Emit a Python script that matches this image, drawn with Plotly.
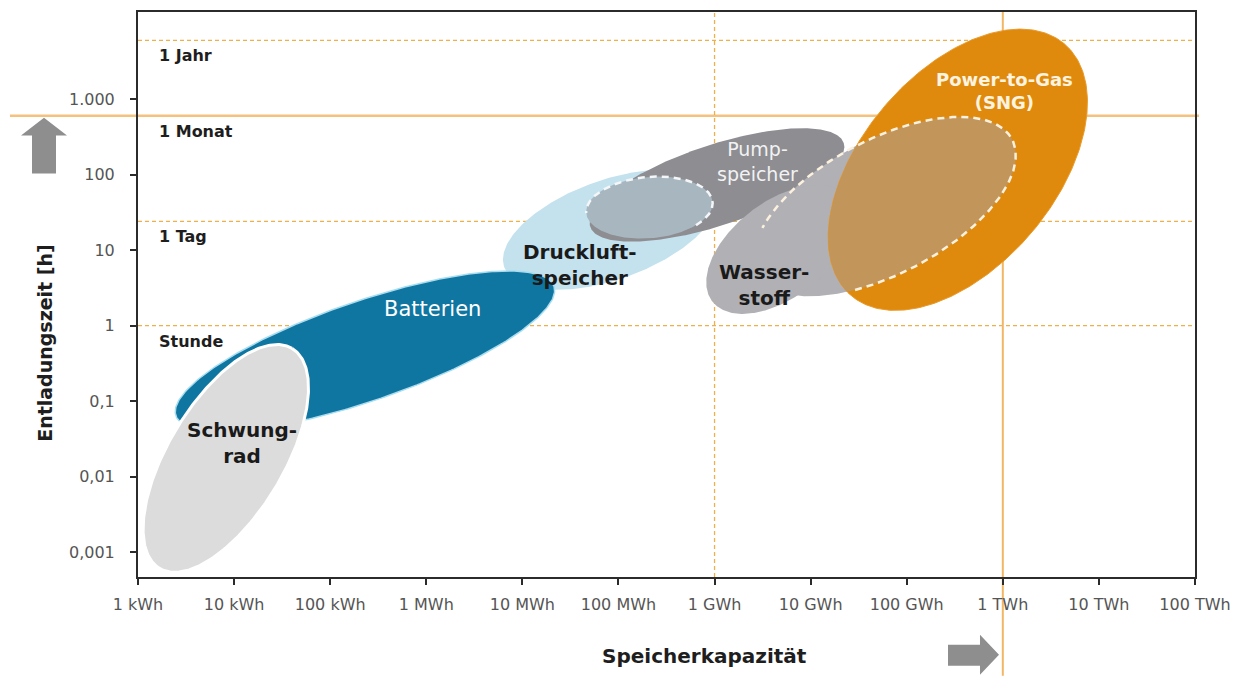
import numpy as np
import plotly.graph_objects as go

# Achsen: Speicherkapazität in kWh, Entladungszeit in h (beide logarithmisch)
x_ticks_kwh = [1e0, 1e1, 1e2, 1e3, 1e4, 1e5, 1e6, 1e7, 1e8, 1e9, 1e10, 1e11]
x_tick_text = ["1 kWh", "10 kWh", "100 kWh", "1 MWh", "10 MWh", "100 MWh",
               "1 GWh", "10 GWh", "100 GWh", "1 TWh", "10 TWh", "100 TWh"]
y_ticks_h = [1e-3, 1e-2, 1e-1, 1e0, 1e1, 1e2, 1e3]
y_tick_text = ["0,001", "0,01", "0,1", "1", "10", "100", "1.000"]

# Zeitmarken (wie im Bild eingezeichnet)
mark_names = ["1 Jahr", "1 Monat", "1 Tag", "Stunde"]
mark_hours = [6000, 600, 24, 1]
mark_solid = [False, True, False, False]

# Kapazitätsmarken
cap_marks_kwh = [1e6, 1e9]
cap_solid = [False, True]

# Technologiebereiche als Ellipsen (Mitte, Halbachsen in Dekaden, Neigung in Grad)
techs = ["Schwungrad", "Batterien", "Druckluftspeicher", "Pumpspeicher",
         "Druckluft/Pump", "Wasserstoff", "Wasserstoff (Rückverstromung)", "Power-to-Gas"]
center_kwh = [8.2, 230, 8.2e4, 1.06e6, 2.1e5, 4.8e6, 5.9e7, 3.4e8]
center_h = [0.0174, 0.46, 18.6, 73, 36.6, 10.2, 37.7, 116]
half_major = [1.34, 2.08, 1.17, 1.39, 0.66, 0.89, 1.50, 1.72]
half_minor = [0.60, 0.52, 0.52, 0.42, 0.32, 0.50, 0.70, 1.01]
tilt_deg = [59, 19, 19.6, 18.4, 5, 37.7, 28, 50]

# Beschriftungen der Bereiche
label_text = ["Schwung-<br>rad", "Batterien", "Druckluft-<br>speicher", "Pump-<br>speicher",
              "Wasser-<br>stoff", "Power-to-Gas<br>(SNG)"]
label_kwh = [12, 1170, 4e4, 2.8e6, 3.3e6, 1.05e9]
label_h = [0.028, 1.66, 6.3, 150, 3.4, 1300]

W, H = 1240, 668          # Seite hat 8 px Rand
OFF = 8
ML, MR, MT, MB = 130, 53, 2, 99
XR = (0.0, 11.0)
YR = (-3.33, 4.154)
PW, PH = W - ML - MR, H - MT - MB
ASPECT = (PW / (XR[1] - XR[0])) / (PH / (YR[1] - YR[0]))
FONT = "DejaVu Sans, Verdana, sans-serif"


def px(v):
    return (np.log10(v) - XR[0]) / (XR[1] - XR[0])


def py(v):
    return (np.log10(v) - YR[0]) / (YR[1] - YR[0])


def pix(x, y):
    # Bildschirmposition -> paper-Koordinaten (für Elemente außerhalb der Achsen)
    return (x - OFF - ML) / PW, (H - MB - (y - OFF)) / PH


def ellipse(i, t):
    cx, cy = np.log10(center_kwh[i]), np.log10(center_h[i])
    a, b, th = half_major[i], half_minor[i], np.radians(tilt_deg[i])
    u, v = a * np.cos(t), b * np.sin(t)
    dx = u * np.cos(th) - v * np.sin(th)
    dy = (u * np.sin(th) + v * np.cos(th)) * ASPECT
    return cx + dx, cy + dy


def inside(i, lx, ly):
    cx, cy = np.log10(center_kwh[i]), np.log10(center_h[i])
    a, b, th = half_major[i], half_minor[i], np.radians(tilt_deg[i])
    dx, dy = lx - cx, (ly - cy) / ASPECT
    u = dx * np.cos(th) + dy * np.sin(th)
    v = -dx * np.sin(th) + dy * np.cos(th)
    return (u / a) ** 2 + (v / b) ** 2 <= 1.0


fig = go.Figure()
T = np.linspace(0, 2 * np.pi, 361)


def add_area(i, fill, line_color=None, line_width=0):
    lx, ly = ellipse(i, T)
    fig.add_trace(go.Scatter(x=10 ** lx, y=10 ** ly, mode="lines", fill="toself",
                             fillcolor=fill, hoverinfo="skip", showlegend=False,
                             line=dict(color=line_color or fill, width=line_width)))


def add_arc(i, t0, t1, color):
    lx, ly = ellipse(i, np.linspace(np.radians(t0), np.radians(t1), 200))
    fig.add_trace(go.Scatter(x=10 ** lx, y=10 ** ly, mode="lines", hoverinfo="skip",
                             showlegend=False,
                             line=dict(color=color, width=2.5, dash="7px,5px")))


add_area(2, "#C4E1EE")
add_area(3, "#8D8D92")
add_area(4, "#A7B6BF")
add_arc(4, -45, 180, "#F4F6F7")
add_area(1, "#0F76A1", "#A8DDF0", 1.5)
add_area(0, "#DCDCDC", "#FFFFFF", 3)
add_area(6, "#B0B0B5")
add_area(5, "#B0B0B5")
add_area(7, "#DF8A0C", "#E99A2A", 1)

# Schnittmenge Wasserstoff-Pfad / Power-to-Gas
ax6, ay6 = ellipse(6, T)
ax7, ay7 = ellipse(7, T)
m6 = inside(7, ax6, ay6)
m7 = inside(6, ax7, ay7)
sx = np.concatenate([ax6[m6], ax7[m7]])
sy = np.concatenate([ay6[m6], ay7[m7]])
order = np.argsort(np.arctan2((sy - sy.mean()) / ASPECT, sx - sx.mean()))
sx, sy = sx[order], sy[order]
fig.add_trace(go.Scatter(x=10 ** np.append(sx, sx[0]), y=10 ** np.append(sy, sy[0]),
                         mode="lines", fill="toself", fillcolor="#C2955B",
                         line=dict(width=0, color="#C2955B"),
                         hoverinfo="skip", showlegend=False))
add_arc(6, -117, 145, "#FBF1DE")

shapes = []
for name, hrs, solid in zip(mark_names, mark_hours, mark_solid):
    if solid:
        x0, _ = pix(10, 0)
        x1, _ = pix(1199, 0)
        line = dict(color="#F5C27E", width=2.5)
    else:
        x0, x1 = 0, 1
        line = dict(color="#EDB04A", width=1.3, dash="4px,3px")
    shapes.append(dict(type="line", xref="paper", yref="paper", x0=x0, x1=x1,
                       y0=py(hrs), y1=py(hrs), line=line, layer="below"))

for cap, solid in zip(cap_marks_kwh, cap_solid):
    if solid:
        _, y0 = pix(0, 676)
        line = dict(color="#F2B765", width=2)
    else:
        y0 = 0
        line = dict(color="#EDB04A", width=1.3, dash="4px,3px")
    shapes.append(dict(type="line", xref="paper", yref="paper", x0=px(cap), x1=px(cap),
                       y0=y0, y1=1, line=line, layer="below"))


def block_arrow(points):
    pts = [pix(x, y) for x, y in points]
    path = "M " + " L ".join(f"{a:.5f},{b:.5f}" for a, b in pts) + " Z"
    return dict(type="path", xref="paper", yref="paper", path=path,
                fillcolor="#8E8E8E", line=dict(width=0), layer="above")


shapes.append(block_arrow([(44, 116), (67, 134), (56, 134), (56, 172),
                           (32, 172), (32, 134), (21, 134)]))
shapes.append(block_arrow([(948, 645), (980, 645), (980, 635), (999, 655),
                           (980, 675), (980, 666), (948, 666)]))

annotations = []
lx0, _ = pix(157, 0)
for name, hrs in zip(mark_names, mark_hours):
    annotations.append(dict(xref="paper", yref="paper", x=lx0, y=py(hrs), text=f"<b>{name}</b>",
                            xanchor="left", yanchor="top", yshift=-4, showarrow=False,
                            font=dict(family=FONT, size=16, color="#1E1E1E")))

label_style = [("#1A1A1A", True), ("#FFFFFF", False), ("#1A1A1A", True),
               ("#F2F2F2", False), ("#1A1A1A", True), ("#FFF4E0", True)]
label_size = [20, 21, 20, 19, 20, 18]
for txt, xk, yh, (col, bold), sz in zip(label_text, label_kwh, label_h, label_style, label_size):
    annotations.append(dict(xref="paper", yref="paper", x=px(xk), y=py(yh),
                            text=f"<b>{txt}</b>" if bold else txt, showarrow=False,
                            xanchor="center", yanchor="middle",
                            font=dict(family=FONT, size=sz, color=col)))

tx, ty = pix(45, 342)
annotations.append(dict(xref="paper", yref="paper", x=tx, y=ty, text="<b>Entladungszeit [h]</b>",
                        textangle=-90, showarrow=False, xanchor="center", yanchor="middle",
                        font=dict(family=FONT, size=19, color="#1E1E1E")))
tx, ty = pix(704, 656)
annotations.append(dict(xref="paper", yref="paper", x=tx, y=ty, text="<b>Speicherkapazität</b>",
                        showarrow=False, xanchor="center", yanchor="middle",
                        font=dict(family=FONT, size=20, color="#1E1E1E")))

axis_common = dict(type="log", showgrid=False, zeroline=False, showline=True,
                   linecolor="#2B2B2B", linewidth=2, mirror=True, ticks="outside",
                   ticklen=6, tickwidth=1.5, tickcolor="#2B2B2B",
                   tickfont=dict(family=FONT, size=16, color="#555555"))

fig.update_layout(
    width=W, height=H,
    margin=dict(l=ML, r=MR, t=MT, b=MB),
    paper_bgcolor="white", plot_bgcolor="white",
    xaxis=dict(axis_common, range=list(XR), tickvals=x_ticks_kwh, ticktext=x_tick_text,
               ticklabelstandoff=6),
    yaxis=dict(axis_common, range=list(YR), tickvals=y_ticks_h, ticktext=y_tick_text,
               ticklabelstandoff=12),
    shapes=shapes, annotations=annotations, showlegend=False,
)

fig.write_html("out.html")
